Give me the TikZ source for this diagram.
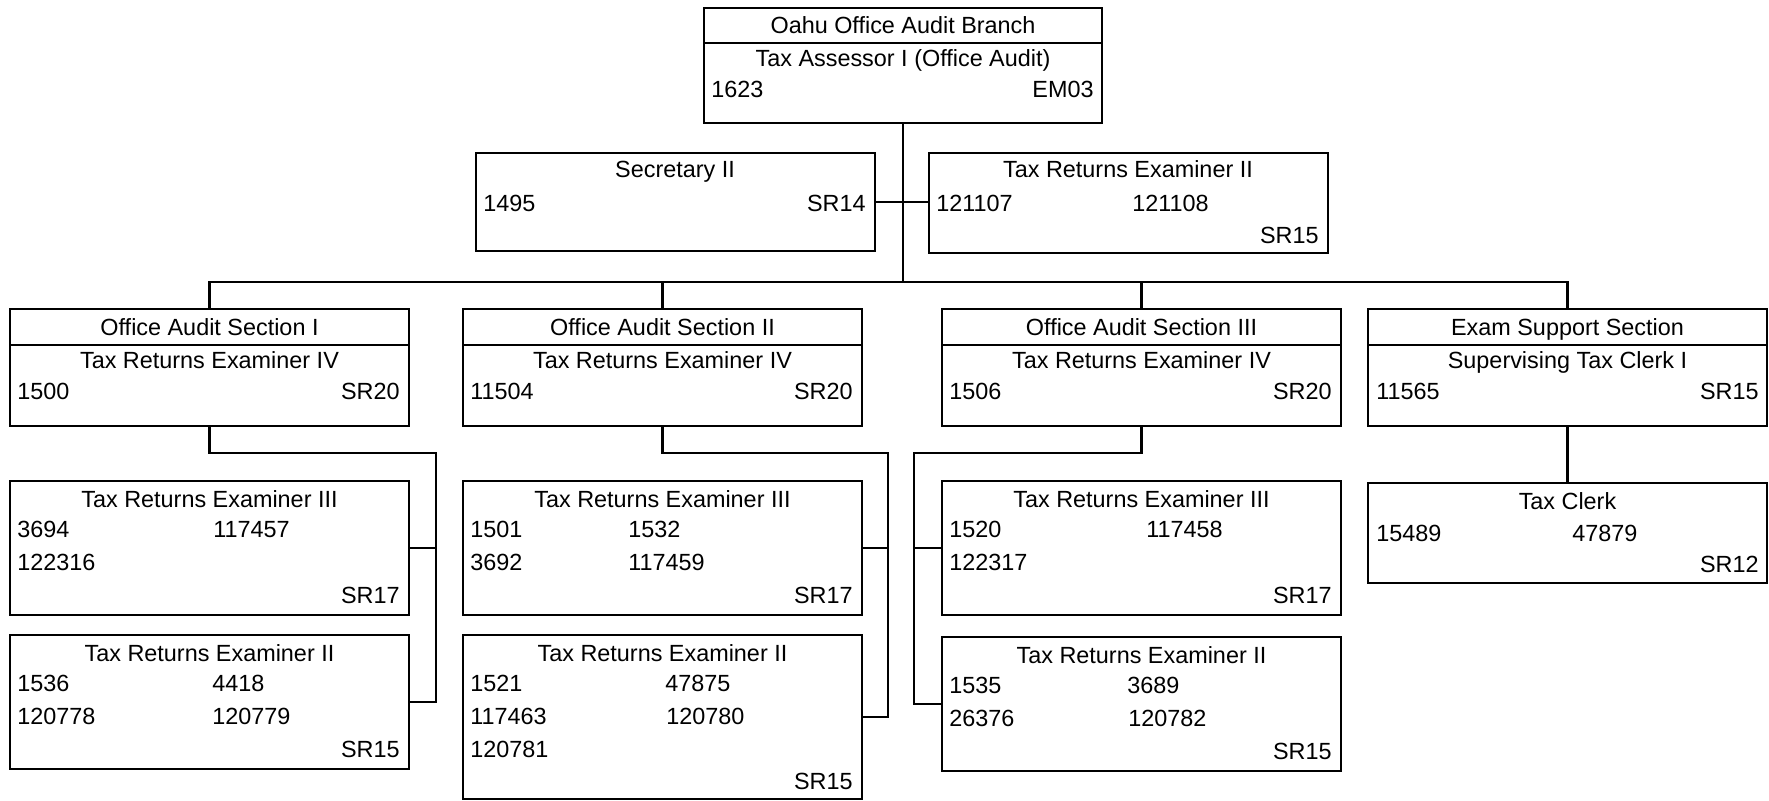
\documentclass[tikz,border=0pt]{standalone}
\usepackage{fontspec}
\setmainfont{Liberation Sans}
\usetikzlibrary{fit}

\begin{document}
\begin{tikzpicture}[x=0.5pt, y=-0.5pt,
            box/.style={draw, line width=1.3pt, inner sep=0pt, fit={#1}},
            link/.style={line width=1.3pt},
            ttl/.style={anchor=base, inner sep=0pt, font=\fontsize{11.7}{14}\selectfont},
            lft/.style={anchor=base west, inner sep=0pt, font=\fontsize{11.7}{14}\selectfont},
            rgt/.style={anchor=base east, inner sep=0pt, font=\fontsize{11.7}{14}\selectfont}]
            \useasboundingbox (0,0) rectangle (1769,801);
            % branch head
            \node[box={(704,8) (1102,43)}] (hd0) {};
            \node[box={(704,43) (1102,123)}] (bd0) {};
            \node[ttl] (hd0t) at (903,34) {Oahu Office Audit Branch};
            \node[ttl] (bd0t) at (903,67) {Tax Assessor I (Office Audit)};
            \node[lft] (bd0n) at (711,98) {1623};
            \node[rgt] (bd0r) at (1094,98) {EM03};
            % staff
            \node[box={(476,153) (875,251)}] (sec) {};
            \node[ttl] (sect) at (675,178) {Secretary II};
            \node[lft] (secn) at (483,212) {1495};
            \node[rgt] (secr) at (866,212) {SR14};
            \node[box={(929,153) (1328,253)}] (tr0) {};
            \node[ttl] (tr0t) at (1128,178) {Tax Returns Examiner II};
            \node[lft] (tr0n) at (936,212) {121107};
            \node[lft] (tr0m) at (1132,212) {121108};
            \node[rgt] (tr0r) at (1319,244) {SR15};
            % sections
            \node[box={(10,309) (409,345)}] (s1h) {};
            \node[box={(10,345) (409,426)}] (s1b) {};
            \node[ttl] (s1t) at (209.5,336) {Office Audit Section I};
            \node[ttl] (s1p) at (209.5,369) {Tax Returns Examiner IV};
            \node[lft] (s1n) at (17,400) {1500};
            \node[rgt] (s1r) at (400,400) {SR20};
            \node[box={(463,309) (862,345)}] (s2h) {};
            \node[box={(463,345) (862,426)}] (s2b) {};
            \node[ttl] (s2t) at (662.5,336) {Office Audit Section II};
            \node[ttl] (s2p) at (662.5,369) {Tax Returns Examiner IV};
            \node[lft] (s2n) at (470,400) {11504};
            \node[rgt] (s2r) at (853,400) {SR20};
            \node[box={(942,309) (1341,345)}] (s3h) {};
            \node[box={(942,345) (1341,426)}] (s3b) {};
            \node[ttl] (s3t) at (1141.5,336) {Office Audit Section III};
            \node[ttl] (s3p) at (1141.5,369) {Tax Returns Examiner IV};
            \node[lft] (s3n) at (949,400) {1506};
            \node[rgt] (s3r) at (1332,400) {SR20};
            \node[box={(1368,309) (1767,345)}] (s4h) {};
            \node[box={(1368,345) (1767,426)}] (s4b) {};
            \node[ttl] (s4t) at (1567.5,336) {Exam Support Section};
            \node[ttl] (s4p) at (1567.5,369) {Supervising Tax Clerk I};
            \node[lft] (s4n) at (1376,400) {11565};
            \node[rgt] (s4r) at (1759,400) {SR15};
            % section I units
            \node[box={(10,481) (409,615)}] (a1) {};
            \node[ttl] (a1t) at (209.5,508) {Tax Returns Examiner III};
            \node[lft] (a1n) at (17,538) {3694};
            \node[lft] (a1m) at (213,538) {117457};
            \node[lft] (a1o) at (17,571) {122316};
            \node[rgt] (a1r) at (400,604) {SR17};
            \node[box={(10,635) (409,769)}] (b1) {};
            \node[ttl] (b1t) at (209.5,662) {Tax Returns Examiner II};
            \node[lft] (b1n) at (17,692) {1536};
            \node[lft] (b1m) at (212,692) {4418};
            \node[lft] (b1o) at (17,725) {120778};
            \node[lft] (b1p) at (212,725) {120779};
            \node[rgt] (b1r) at (400,758) {SR15};
            % section II units
            \node[box={(463,481) (862,615)}] (a2) {};
            \node[ttl] (a2t) at (662.5,508) {Tax Returns Examiner III};
            \node[lft] (a2n) at (470,538) {1501};
            \node[lft] (a2m) at (628,538) {1532};
            \node[lft] (a2o) at (470,571) {3692};
            \node[lft] (a2p) at (628,571) {117459};
            \node[rgt] (a2r) at (853,604) {SR17};
            \node[box={(463,635) (862,799)}] (b2) {};
            \node[ttl] (b2t) at (662.5,662) {Tax Returns Examiner II};
            \node[lft] (b2n) at (470,692) {1521};
            \node[lft] (b2m) at (665,692) {47875};
            \node[lft] (b2o) at (470,725) {117463};
            \node[lft] (b2p) at (666,725) {120780};
            \node[lft] (b2q) at (470,758) {120781};
            \node[rgt] (b2r) at (853,790) {SR15};
            % section III units
            \node[box={(942,481) (1341,615)}] (a3) {};
            \node[ttl] (a3t) at (1141.5,508) {Tax Returns Examiner III};
            \node[lft] (a3n) at (949,538) {1520};
            \node[lft] (a3m) at (1146,538) {117458};
            \node[lft] (a3o) at (949,571) {122317};
            \node[rgt] (a3r) at (1332,604) {SR17};
            \node[box={(942,637) (1341,771)}] (b3) {};
            \node[ttl] (b3t) at (1141.5,664) {Tax Returns Examiner II};
            \node[lft] (b3n) at (949,694) {1535};
            \node[lft] (b3m) at (1127,694) {3689};
            \node[lft] (b3o) at (949,727) {26376};
            \node[lft] (b3p) at (1128,727) {120782};
            \node[rgt] (b3r) at (1332,760) {SR15};
            % exam support unit
            \node[box={(1368,483) (1767,583)}] (c4) {};
            \node[ttl] (c4t) at (1567.5,510) {Tax Clerk};
            \node[lft] (c4n) at (1376,542) {15489};
            \node[lft] (c4m) at (1572,542) {47879};
            \node[rgt] (c4r) at (1759,573) {SR12};
            % connectors
            \coordinate (bus) at (902,282);
            \coordinate (k1) at (436,453);
            \coordinate (k2) at (888,453);
            \coordinate (k3) at (914,453);
            \draw[link] (bd0.south) -- (bd0.south |- bus);
            \draw[link] (sec.east) -- (sec.east -| tr0.west);
            \draw[link] (s1h.north) -- (s1h.north |- bus) -- (s4h.north |- bus) -- (s4h.north);
            \draw[link] (s2h.north) -- (s2h.north |- bus);
            \draw[link] (s3h.north) -- (s3h.north |- bus);
            \draw[link] (s1b.south) |- (k1) |- (b1.east);
            \draw[link] (a1.east) -- (a1.east -| k1);
            \draw[link] (s2b.south) |- (k2) |- (b2.east);
            \draw[link] (a2.east) -- (a2.east -| k2);
            \draw[link] (s3b.south) |- (k3) |- (b3.west);
            \draw[link] (a3.west) -- (a3.west -| k3);
            \draw[link] (s4b.south) -- (c4.north);
        \end{tikzpicture}
\end{document}
